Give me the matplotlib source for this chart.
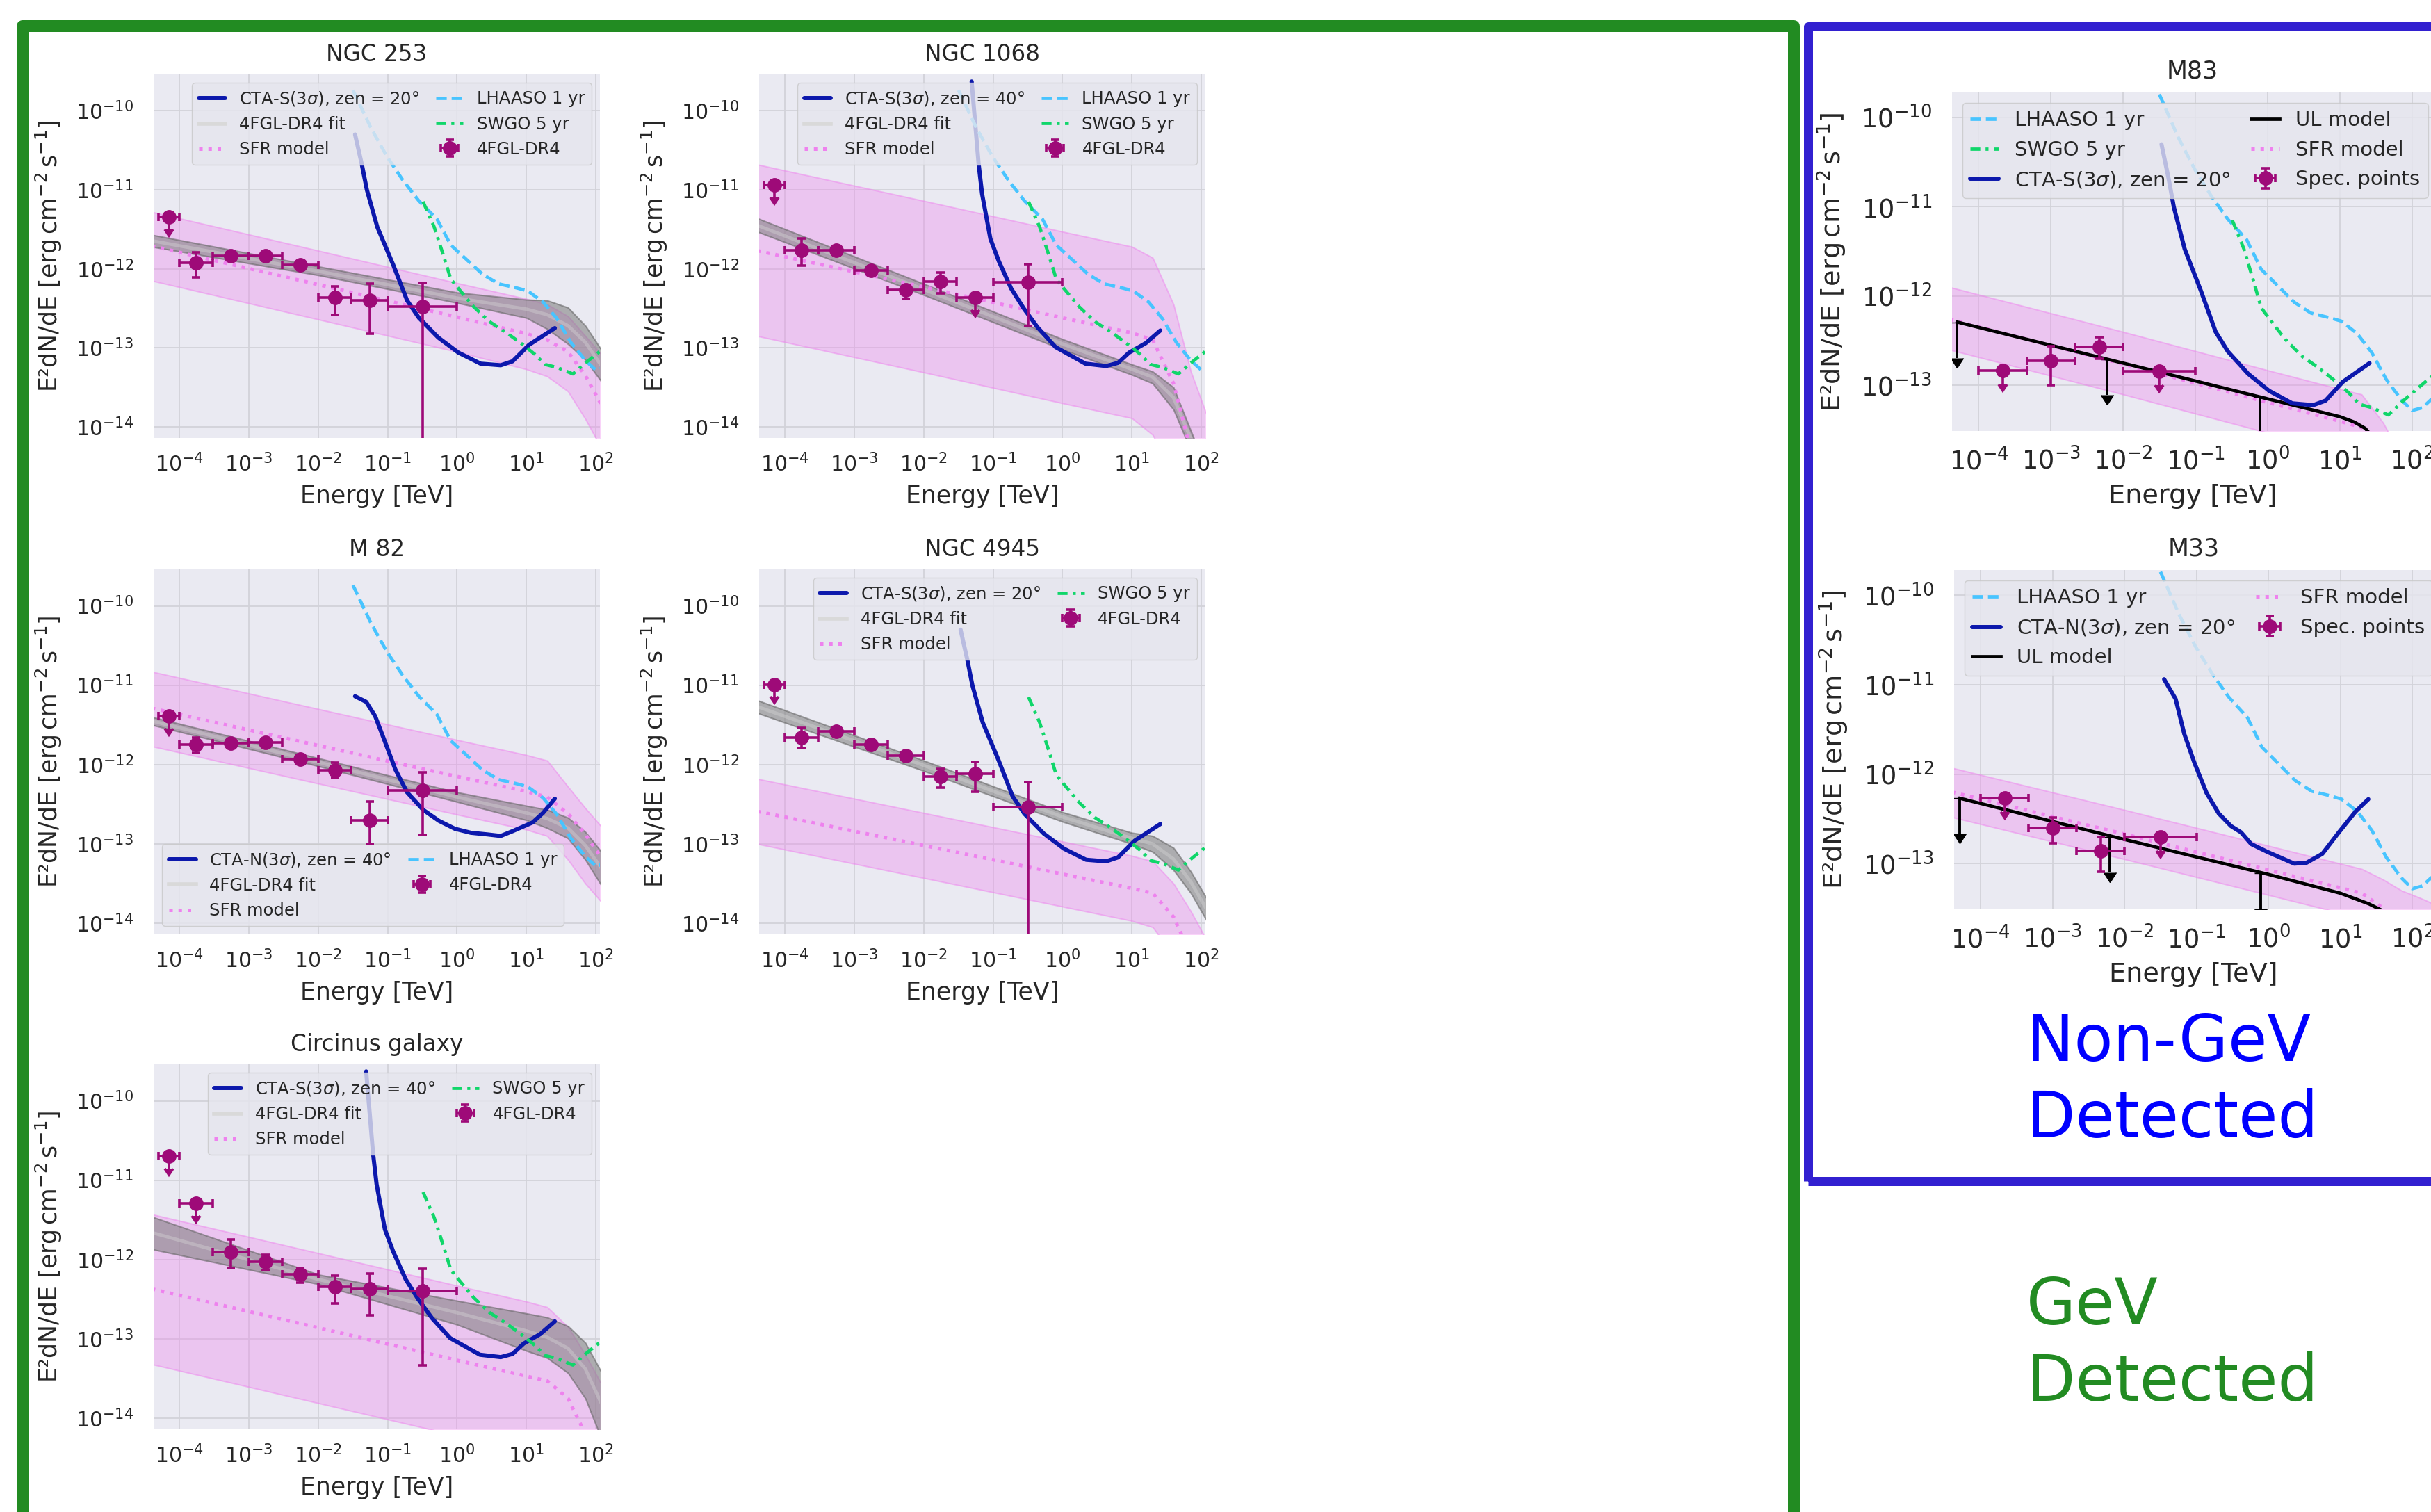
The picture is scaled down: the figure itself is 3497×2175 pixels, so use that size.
import numpy as np
import matplotlib.pyplot as plt
from matplotlib.lines import Line2D
from matplotlib.patches import Rectangle
from matplotlib.ticker import LogLocator, NullLocator

W, H = 3498, 2175

# ------------------------------------------------
# sensitivity curves: log10(E / TeV), log10(E^2 dN/dE / erg cm^-2 s^-1)
# ------------------------------------------------
cta_s20_e = [-1.47, -1.37, -1.30, -1.15, -0.92, -0.72, -0.55, -0.27, 0.02, 0.34, 0.63, 0.80, 1.04, 1.41]
cta_s20_f = [-10.30, -10.69, -11.00, -11.47, -11.95, -12.40, -12.62, -12.87, -13.06, -13.20, -13.22, -13.17, -12.96, -12.75]
cta_s40_e = [-1.31, -1.21, -1.16, -1.04, -0.92, -0.74, -0.56, -0.36, -0.10, 0.33, 0.63, 0.80, 0.96, 1.20, 1.41]
cta_s40_f = [-9.63, -10.67, -11.05, -11.62, -11.90, -12.25, -12.50, -12.74, -12.99, -13.20, -13.23, -13.19, -13.06, -12.94, -12.78]
cta_n40_e = [-1.47, -1.31, -1.18, -1.04, -0.89, -0.72, -0.49, -0.26, -0.03, 0.20, 0.43, 0.63, 0.80, 1.09, 1.24, 1.41]
cta_n40_f = [-11.14, -11.21, -11.39, -11.71, -12.06, -12.35, -12.57, -12.71, -12.81, -12.86, -12.88, -12.90, -12.84, -12.73, -12.61, -12.43]
cta_n20_e = [-1.45, -1.29, -1.17, -1.03, -0.86, -0.69, -0.52, -0.38, -0.24, -0.01, 0.19, 0.36, 0.53, 0.75, 0.98, 1.21, 1.39]
cta_n20_f = [-10.94, -11.16, -11.55, -11.87, -12.21, -12.44, -12.58, -12.65, -12.78, -12.87, -12.94, -13.00, -12.99, -12.89, -12.65, -12.42, -12.28]
lhaaso_e = [-1.50, -1.24, -1.01, -0.78, -0.55, -0.29, -0.09, 0.11, 0.37, 0.60, 0.85, 1.02, 1.24, 1.44, 1.64, 1.85, 2.00, 2.14, 2.30]
lhaaso_f = [-9.74, -10.22, -10.58, -10.88, -11.14, -11.37, -11.70, -11.86, -12.07, -12.19, -12.24, -12.28, -12.42, -12.63, -12.93, -13.16, -13.28, -13.25, -13.13]
swgo_e = [-0.49, -0.33, -0.20, -0.09, 0.03, 0.24, 0.47, 0.70, 0.95, 1.12, 1.27, 1.45, 1.67, 1.88, 2.08, 2.30]
swgo_f = [-11.15, -11.47, -11.82, -12.13, -12.26, -12.48, -12.67, -12.80, -12.96, -13.08, -13.21, -13.25, -13.33, -13.17, -13.03, -12.88]

# ------------------------------------------------
# model bands, sampled at these log10(E / TeV)
# ------------------------------------------------
node_e = [-4.4, -2.0, 0.0, 1.0, 1.3, 1.6, 1.85, 2.1, 2.3]

n253_sfr = [-11.71, -12.20, -12.61, -12.82, -12.90, -13.05, -13.35, -13.75, -14.10]
n253_sfr_hi = [-11.28, -11.77, -12.18, -12.38, -12.45, -12.60, -12.85, -13.10, -13.30]
n253_sfr_lo = [-12.15, -12.64, -13.05, -13.27, -13.36, -13.55, -13.90, -14.30, -14.60]
n253_fit = [-11.645, -12.03, -12.37, -12.51, -12.58, -12.72, -12.93, -13.25, -13.55]
n253_fit_hi = [-11.57, -11.97, -12.30, -12.39, -12.40, -12.49, -12.72, -13.05, -13.30]
n253_fit_lo = [-11.72, -12.08, -12.43, -12.62, -12.76, -12.95, -13.15, -13.45, -13.80]

n1068_sfr = [-11.77, -12.23, -12.62, -12.81, -12.90, -13.45, -14.30, -15.00, -15.50]
n1068_sfr_hi = [-10.68, -11.14, -11.53, -11.72, -11.86, -12.45, -13.30, -13.90, -14.20]
n1068_sfr_lo = [-12.85, -13.31, -13.70, -13.89, -14.10, -14.60, -15.20, -15.80, -16.00]
n1068_fit = [-11.45, -12.26, -12.95, -13.27, -13.37, -13.63, -14.15, -14.80, -15.20]
n1068_fit_hi = [-11.36, -12.19, -12.89, -13.21, -13.30, -13.50, -14.05, -14.60, -15.00]
n1068_fit_lo = [-11.53, -12.33, -13.02, -13.34, -13.45, -13.78, -14.30, -15.00, -15.50]

m82_sfr = [-11.29, -11.76, -12.15, -12.34, -12.41, -12.62, -12.88, -13.20, -13.40]
m82_sfr_hi = [-10.83, -11.30, -11.69, -11.88, -11.95, -12.28, -12.55, -12.80, -13.00]
m82_sfr_lo = [-11.77, -12.24, -12.63, -12.82, -12.90, -13.20, -13.50, -13.75, -14.00]
m82_fit = [-11.45, -11.97, -12.41, -12.61, -12.68, -12.80, -13.02, -13.33, -13.60]
m82_fit_hi = [-11.40, -11.92, -12.35, -12.52, -12.57, -12.67, -12.85, -13.12, -13.40]
m82_fit_lo = [-11.50, -12.02, -12.47, -12.70, -12.80, -12.93, -13.20, -13.55, -13.90]

n4945_sfr = [-12.59, -13.02, -13.38, -13.56, -13.62, -13.92, -14.40, -14.90, -15.30]
n4945_sfr_hi = [-12.18, -12.61, -12.97, -13.15, -13.22, -13.50, -13.85, -14.25, -14.60]
n4945_sfr_lo = [-13.00, -13.43, -13.79, -13.97, -14.05, -14.40, -14.80, -15.20, -15.60]
n4945_fit = [-11.27, -12.01, -12.66, -12.93, -13.00, -13.19, -13.48, -13.86, -14.15]
n4945_fit_hi = [-11.19, -11.95, -12.60, -12.86, -12.90, -13.05, -13.35, -13.72, -14.00]
n4945_fit_lo = [-11.35, -12.08, -12.72, -13.00, -13.10, -13.33, -13.62, -14.00, -14.30]

circ_sfr = [-12.37, -12.86, -13.27, -13.47, -13.53, -13.75, -14.20, -14.70, -15.00]
circ_sfr_hi = [-11.43, -11.92, -12.33, -12.53, -12.60, -12.85, -13.20, -13.60, -13.90]
circ_sfr_lo = [-13.32, -13.81, -14.22, -14.42, -14.50, -14.80, -15.20, -15.60, -16.00]
circ_fit = [-11.66, -12.25, -12.67, -12.90, -12.98, -13.12, -13.38, -13.85, -14.20]
circ_fit_hi = [-11.46, -12.19, -12.52, -12.68, -12.73, -12.84, -13.05, -13.45, -13.80]
circ_fit_lo = [-11.87, -12.31, -12.82, -13.15, -13.24, -13.43, -13.75, -14.30, -14.70]

m83_sfr = [-12.26, -12.76, -13.19, -13.40, -13.47, -13.70, -14.00, -14.30, -14.60]
m83_sfr_hi = [-11.90, -12.40, -12.83, -13.04, -13.10, -13.42, -13.80, -14.20, -14.50]
m83_sfr_lo = [-12.60, -13.10, -13.53, -13.74, -13.81, -14.10, -14.40, -14.80, -15.10]

m33_sfr = [-12.20, -12.67, -13.07, -13.27, -13.33, -13.50, -13.70, -13.95, -14.15]
m33_sfr_hi = [-11.93, -12.40, -12.80, -13.00, -13.06, -13.18, -13.30, -13.38, -13.45]
m33_sfr_lo = [-12.48, -12.95, -13.35, -13.55, -13.62, -13.85, -14.10, -14.50, -14.80]

# UL model (black line) and its arrows
m83_ul_e = [-4.30, -2.0, 0.0, 1.0, 1.2, 1.35, 1.5]
m83_ul_f = [-12.29, -12.75, -13.15, -13.35, -13.41, -13.48, -13.62]
m83_arrow_e = [5.0e-5, 6.0e-3, 0.79]
m83_arrow_f = [5.1e-13, 1.95e-13, 7.4e-14]
m33_ul_e = [-4.29, -2.0, 0.0, 1.0, 1.2, 1.4, 1.65]
m33_ul_f = [-12.27, -12.73, -13.12, -13.33, -13.39, -13.45, -13.55]
m33_arrow_e = [5.1e-5, 6.3e-3, 0.78]
m33_arrow_f = [5.4e-13, 2.0e-13, 7.9e-14]

# ------------------------------------------------
# spectral points [TeV], [erg cm^-2 s^-1]
# ------------------------------------------------
fgl_e = [7.1e-5, 1.73e-4, 5.5e-4, 1.73e-3, 5.5e-3, 1.73e-2, 5.5e-2, 0.316]
fgl_lo = [5e-5, 1e-4, 3e-4, 1e-3, 3e-3, 1e-2, 3e-2, 0.1]
fgl_hi = [1e-4, 3e-4, 1e-3, 3e-3, 1e-2, 3e-2, 0.1, 1.0]

n253_pts = [4.5e-12, 1.2e-12, 1.45e-12, 1.45e-12, 1.12e-12, 4.3e-13, 4.0e-13, 3.3e-13]
n253_pts_lo = [0, 7.8e-13, 1.3e-12, 1.3e-12, 1.0e-12, 2.6e-13, 1.5e-13, 1e-16]
n253_pts_hi = [0, 1.62e-12, 1.62e-12, 1.62e-12, 1.25e-12, 6.0e-13, 6.5e-13, 6.6e-13]
n253_ul = [1, 0, 0, 0, 0, 0, 0, 0]

n1068_pts = [1.15e-11, 1.73e-12, 1.73e-12, 9.6e-13, 5.4e-13, 6.9e-13, 4.3e-13, 6.8e-13]
n1068_pts_lo = [0, 1.1e-12, 1.55e-12, 8.6e-13, 4.2e-13, 4.9e-13, 0, 1.9e-13]
n1068_pts_hi = [0, 2.4e-12, 1.93e-12, 1.07e-12, 6.3e-13, 8.9e-13, 0, 1.15e-12]
n1068_ul = [1, 0, 0, 0, 0, 0, 1, 0]

m82_pts = [4.1e-12, 1.8e-12, 1.86e-12, 1.9e-12, 1.17e-12, 8.5e-13, 2.0e-13, 4.7e-13]
m82_pts_lo = [0, 1.4e-12, 1.66e-12, 1.7e-12, 1.05e-12, 6.8e-13, 1.0e-13, 1.3e-13]
m82_pts_hi = [0, 2.2e-12, 2.08e-12, 2.12e-12, 1.3e-12, 1.05e-12, 3.4e-13, 7.9e-13]
m82_ul = [1, 0, 0, 0, 0, 0, 0, 0]

n4945_pts = [1.02e-11, 2.2e-12, 2.6e-12, 1.8e-12, 1.3e-12, 7.1e-13, 7.7e-13, 2.9e-13]
n4945_pts_lo = [0, 1.6e-12, 2.32e-12, 1.6e-12, 1.16e-12, 5.1e-13, 4.5e-13, 1e-16]
n4945_pts_hi = [0, 2.9e-12, 2.9e-12, 2.0e-12, 1.45e-12, 8.9e-13, 1.07e-12, 6.0e-13]
n4945_ul = [1, 0, 0, 0, 0, 0, 0, 0]

circ_pts = [2.0e-11, 5.1e-12, 1.23e-12, 9.3e-13, 6.5e-13, 4.5e-13, 4.3e-13, 4.0e-13]
circ_pts_lo = [0, 0, 7.8e-13, 7.4e-13, 5.1e-13, 2.8e-13, 2.0e-13, 4.6e-14]
circ_pts_hi = [0, 0, 1.78e-12, 1.15e-12, 7.8e-13, 6.3e-13, 6.6e-13, 7.6e-13]
circ_ul = [1, 1, 0, 0, 0, 0, 0, 0]

spec_e = [2.15e-4, 1.0e-3, 4.64e-3, 3.16e-2]
spec_lo = [1e-4, 4.64e-4, 2.15e-3, 1e-2]
spec_hi = [4.64e-4, 2.15e-3, 1e-2, 1e-1]
m83_pts = [1.46e-13, 1.9e-13, 2.7e-13, 1.45e-13]
m83_pts_lo = [0, 1.0e-13, 2.0e-13, 0]
m83_pts_hi = [0, 2.75e-13, 3.5e-13, 0]
m83_ul = [1, 0, 0, 1]
m33_pts = [5.4e-13, 2.5e-13, 1.4e-13, 2.0e-13]
m33_pts_lo = [0, 1.7e-13, 8.1e-14, 0]
m33_pts_hi = [0, 3.3e-13, 2.0e-13, 0]
m33_ul = [1, 0, 0, 1]

# ------------------------------------------------
# styles
# ------------------------------------------------
BG = "#EAEAF2"
INK = "#262626"
C_CTA = "#0c18ac"
C_LH = "#48c4ff"
C_SW = "#10d66a"
C_PT = "#9e0a78"
YLAB = "E²dN/dE [$\\mathrm{erg\\,cm^{-2}\\,s^{-1}}$]"

LEFT = dict(xlim=(10 ** -4.374, 10 ** 2.06), ylim=(10 ** -14.14, 10 ** -9.54),
            title=23.5, tpad=14, label=25, tick=21.5, xpad=16, ypad=21,
            xlpad=9, ylpad=12, legend=17.5, hlen=1.6)
RIGHT = dict(xlim=(10 ** -4.37, 10 ** 2.29), ylim=(10 ** -13.51, 10 ** -9.72),
             title=25, tpad=14.5, label=27.5, tick=26.5, xpad=17, ypad=21,
             xlpad=9, ylpad=13, legend=21, hlen=1.4)

plt.rcParams["mathtext.fontset"] = "dejavusans"
plt.rcParams["text.color"] = INK
plt.rcParams["axes.labelcolor"] = INK

fig = plt.figure(figsize=(W / 100, H / 100), dpi=100, facecolor="white")


def make_axes(box, title, st):
    x0, y0, x1, y1 = box
    ax = fig.add_axes([x0 / W, 1 - y1 / H, (x1 - x0) / W, (y1 - y0) / H])
    ax.set_facecolor(BG)
    ax.set_xscale("log")
    ax.set_yscale("log")
    ax.set_xlim(st["xlim"])
    ax.set_ylim(st["ylim"])
    for a in (ax.xaxis, ax.yaxis):
        a.set_major_locator(LogLocator(base=10, numticks=20))
        a.set_minor_locator(NullLocator())
    ax.grid(True, color="#d2d2d9", lw=1.3)
    ax.set_axisbelow(True)
    for s in ax.spines.values():
        s.set_visible(False)
    ax.tick_params(length=0, labelsize=st["tick"], colors=INK)
    ax.tick_params(axis="x", pad=st["xpad"])
    ax.tick_params(axis="y", pad=st["ypad"])
    ax.set_title(title, fontsize=st["title"], pad=st["tpad"], color=INK)
    ax.set_xlabel("Energy [TeV]", fontsize=st["label"], labelpad=st["xlpad"])
    ax.set_ylabel(YLAB, fontsize=st["label"], labelpad=st["ylpad"])
    return ax


def lg(v):
    return 10.0 ** np.asarray(v, dtype=float)


def sfr_model(ax, mid, lo, hi):
    ax.fill_between(lg(node_e), lg(lo), lg(hi), facecolor=(0.933, 0.51, 0.933, 0.35),
                    edgecolor=(0.933, 0.51, 0.933, 0.5), lw=1.4, zorder=1)
    h, = ax.plot(lg(node_e), lg(mid), color="violet", ls=":", lw=3.6, zorder=3)
    return h


def fgl_fit(ax, mid, lo, hi):
    ax.fill_between(lg(node_e), lg(lo), lg(hi), facecolor=(0.5, 0.5, 0.5, 0.58),
                    edgecolor=(0.4, 0.4, 0.4, 0.6), lw=1.5, zorder=2)
    ax.plot(lg(node_e), lg(mid), color="#d6d6d6", lw=3.5, alpha=0.4, zorder=2)
    return Line2D([], [], color="#d9d9d9", lw=4)


def cta(ax, e, f):
    h, = ax.plot(lg(e), lg(f), color=C_CTA, lw=4.3, zorder=4, solid_capstyle="round")
    return h


def lhaaso(ax):
    h, = ax.plot(lg(lhaaso_e), lg(lhaaso_f), color=C_LH, lw=3.4, ls=(0, (3.2, 1.5)), zorder=4)
    return h


def swgo(ax):
    h, = ax.plot(lg(swgo_e), lg(swgo_f), color=C_SW, lw=3.4,
                 ls=(0, (3.0, 1.6, 0.9, 1.6)), zorder=4)
    return h


def points(ax, e, elo, ehi, f, flo, fhi, ul):
    e, elo, ehi = np.asarray(e), np.asarray(elo), np.asarray(ehi)
    f, flo, fhi = np.asarray(f), np.asarray(flo), np.asarray(fhi)
    ul = np.asarray(ul, dtype=bool)
    det = ~ul
    kw = dict(fmt="o", color=C_PT, ms=14, elinewidth=2.6, capsize=4.5, capthick=2.6, zorder=6)
    h = ax.errorbar(e[det], f[det], xerr=[e[det] - elo[det], ehi[det] - e[det]],
                    yerr=[f[det] - flo[det], fhi[det] - f[det]], **kw)
    ax.errorbar(e[ul], f[ul], xerr=[e[ul] - elo[ul], ehi[ul] - e[ul]],
                yerr=0.3 * f[ul], uplims=True, **kw)
    return h


def ul_model(ax, e, f, ae, af):
    h, = ax.plot(lg(e), lg(f), color="black", lw=3.4, zorder=4)
    ae, af = np.asarray(ae), np.asarray(af)
    ax.errorbar(ae, af, yerr=0.6 * af, uplims=True, fmt="none", color="black",
                ecolor="black", elinewidth=2.8, capsize=6.5, zorder=4)
    return h


def legend(ax, handles, labels, st, loc):
    ax.legend(handles, labels, loc=loc, ncol=2, fontsize=st["legend"],
              handlelength=st["hlen"], columnspacing=1.0, framealpha=0.8,
              facecolor="#e6e6ee", edgecolor="#c8c8c8", fancybox=True)


def cta_label(site, zen):
    return "CTA-%s(3$\\sigma$), zen = %d°" % (site, zen)


# ------------------------------------------------
# GeV detected galaxies
# ------------------------------------------------
ax = make_axes((221, 107, 863, 630), "NGC 253", LEFT)
hs = sfr_model(ax, n253_sfr, n253_sfr_lo, n253_sfr_hi)
hf = fgl_fit(ax, n253_fit, n253_fit_lo, n253_fit_hi)
hc = cta(ax, cta_s20_e, cta_s20_f)
hl = lhaaso(ax)
hw = swgo(ax)
hp = points(ax, fgl_e, fgl_lo, fgl_hi, n253_pts, n253_pts_lo, n253_pts_hi, n253_ul)
legend(ax, [hc, hf, hs, hl, hw, hp],
       [cta_label("S", 20), "4FGL-DR4 fit", "SFR model", "LHAASO 1 yr", "SWGO 5 yr", "4FGL-DR4"],
       LEFT, "upper right")

ax = make_axes((1092, 107, 1734, 630), "NGC 1068", LEFT)
hs = sfr_model(ax, n1068_sfr, n1068_sfr_lo, n1068_sfr_hi)
hf = fgl_fit(ax, n1068_fit, n1068_fit_lo, n1068_fit_hi)
hc = cta(ax, cta_s40_e, cta_s40_f)
hl = lhaaso(ax)
hw = swgo(ax)
hp = points(ax, fgl_e, fgl_lo, fgl_hi, n1068_pts, n1068_pts_lo, n1068_pts_hi, n1068_ul)
legend(ax, [hc, hf, hs, hl, hw, hp],
       [cta_label("S", 40), "4FGL-DR4 fit", "SFR model", "LHAASO 1 yr", "SWGO 5 yr", "4FGL-DR4"],
       LEFT, "upper right")

ax = make_axes((221, 819, 863, 1344), "M 82", LEFT)
hs = sfr_model(ax, m82_sfr, m82_sfr_lo, m82_sfr_hi)
hf = fgl_fit(ax, m82_fit, m82_fit_lo, m82_fit_hi)
hc = cta(ax, cta_n40_e, cta_n40_f)
hl = lhaaso(ax)
hp = points(ax, fgl_e, fgl_lo, fgl_hi, m82_pts, m82_pts_lo, m82_pts_hi, m82_ul)
legend(ax, [hc, hf, hs, hl, hp],
       [cta_label("N", 40), "4FGL-DR4 fit", "SFR model", "LHAASO 1 yr", "4FGL-DR4"],
       LEFT, "lower left")

ax = make_axes((1092, 819, 1734, 1344), "NGC 4945", LEFT)
hs = sfr_model(ax, n4945_sfr, n4945_sfr_lo, n4945_sfr_hi)
hf = fgl_fit(ax, n4945_fit, n4945_fit_lo, n4945_fit_hi)
hc = cta(ax, cta_s20_e, cta_s20_f)
hw = swgo(ax)
hp = points(ax, fgl_e, fgl_lo, fgl_hi, n4945_pts, n4945_pts_lo, n4945_pts_hi, n4945_ul)
legend(ax, [hc, hf, hs, hw, hp],
       [cta_label("S", 20), "4FGL-DR4 fit", "SFR model", "SWGO 5 yr", "4FGL-DR4"],
       LEFT, "upper right")

ax = make_axes((221, 1531, 863, 2056), "Circinus galaxy", LEFT)
hs = sfr_model(ax, circ_sfr, circ_sfr_lo, circ_sfr_hi)
hf = fgl_fit(ax, circ_fit, circ_fit_lo, circ_fit_hi)
hc = cta(ax, cta_s40_e, cta_s40_f)
hw = swgo(ax)
hp = points(ax, fgl_e, fgl_lo, fgl_hi, circ_pts, circ_pts_lo, circ_pts_hi, circ_ul)
legend(ax, [hc, hf, hs, hw, hp],
       [cta_label("S", 40), "4FGL-DR4 fit", "SFR model", "SWGO 5 yr", "4FGL-DR4"],
       LEFT, "upper right")

# ------------------------------------------------
# non-GeV detected galaxies
# ------------------------------------------------
ax = make_axes((2808, 133, 3500, 620), "M83", RIGHT)
hs = sfr_model(ax, m83_sfr, m83_sfr_lo, m83_sfr_hi)
hu = ul_model(ax, m83_ul_e, m83_ul_f, m83_arrow_e, m83_arrow_f)
hl = lhaaso(ax)
hw = swgo(ax)
hc = cta(ax, cta_s20_e, cta_s20_f)
hp = points(ax, spec_e, spec_lo, spec_hi, m83_pts, m83_pts_lo, m83_pts_hi, m83_ul)
legend(ax, [hl, hw, hc, hu, hs, hp],
       ["LHAASO 1 yr", "SWGO 5 yr", cta_label("S", 20), "UL model", "SFR model", "Spec. points"],
       RIGHT, "upper left")

ax = make_axes((2811, 820, 3500, 1308), "M33", RIGHT)
hs = sfr_model(ax, m33_sfr, m33_sfr_lo, m33_sfr_hi)
hu = ul_model(ax, m33_ul_e, m33_ul_f, m33_arrow_e, m33_arrow_f)
hl = lhaaso(ax)
hc = cta(ax, cta_n20_e, cta_n20_f)
hp = points(ax, spec_e, spec_lo, spec_hi, m33_pts, m33_pts_lo, m33_pts_hi, m33_ul)
legend(ax, [hl, hc, hu, hs, hp],
       ["LHAASO 1 yr", cta_label("N", 20), "UL model", "SFR model", "Spec. points"],
       RIGHT, "upper left")

# ------------------------------------------------
# group boxes and labels
# ------------------------------------------------
def frame(x0, y0, x1, y1, color, lw_px):
    r = Rectangle((x0 / W, 1 - y1 / H), (x1 - x0) / W, (y1 - y0) / H,
                  transform=fig.transFigure, fill=False, edgecolor=color,
                  lw=lw_px * 0.72, joinstyle="round", zorder=10)
    fig.add_artist(r)


frame(32, 37, 2580, 2190, "#228B22", 17)
frame(2601, 38, 3530, 1699, "#3220d0", 13)

fig.text(2915 / W, 1 - 1526 / H, "Non-GeV", color="blue", fontsize=66, va="baseline")
fig.text(2915 / W, 1 - 1636 / H, "Detected", color="blue", fontsize=66, va="baseline")
fig.text(2915 / W, 1 - 1905 / H, "GeV", color="#228B22", fontsize=66, va="baseline")
fig.text(2915 / W, 1 - 2015 / H, "Detected", color="#228B22", fontsize=66, va="baseline")

fig.savefig("out.png", dpi=100)
